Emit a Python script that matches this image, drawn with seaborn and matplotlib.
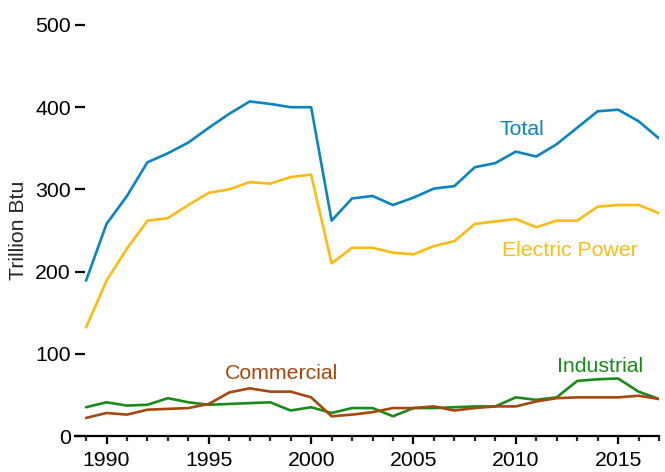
import matplotlib
matplotlib.use("Agg")
import matplotlib.pyplot as plt
from matplotlib.ticker import MultipleLocator
import numpy as np
import pandas as pd
import seaborn as sns

years = list(range(1989, 2018))

total = [189, 258, 292, 333, 344, 357, 375, 392, 407, 404, 400, 400, 262, 289, 292,
         281, 290, 301, 304, 327, 332, 346, 340, 355, 375, 395, 397, 383, 362]
electric_power = [132, 189, 228, 262, 265, 281, 296, 300, 309, 307, 315, 318, 210, 229, 229,
                  223, 221, 231, 237, 258, 261, 264, 254, 262, 262, 279, 281, 281, 271]
industrial = [35, 41, 37, 38, 46, 41, 38, 39, 40, 41, 31, 35, 28, 34, 34,
              24, 34, 34, 35, 36, 36, 47, 44, 47, 67, 69, 70, 54, 45]
commercial = [22, 28, 26, 32, 33, 34, 39, 53, 58, 54, 54, 47, 24, 26, 29,
              34, 34, 36, 31, 34, 36, 36, 42, 46, 47, 47, 47, 49, 45]

series_names = ["Total", "Electric Power", "Industrial", "Commercial"]
series_colors = ["#0B84C1", "#FDBB16", "#1A8A1A", "#A6470F"]

# label text, anchor year, anchor value (baseline)
labels = ["Total", "Electric Power", "Commercial", "Industrial"]
label_years = [2010.3, 2012.65, 1998.55, 2014.1]
label_values = [366, 219, 69, 78]
label_colors = ["#0B84C1", "#FDBB16", "#A6470F", "#1A8A1A"]

df = pd.DataFrame({
    "year": years * 4,
    "value": total + electric_power + industrial + commercial,
    "series": sum([[n] * len(years) for n in series_names], []),
})

sns.set_style("white")
plt.rcParams["font.family"] = ["Liberation Sans", "DejaVu Sans"]
FS = 15.3

fig = plt.figure(figsize=(6.65, 4.72), dpi=100)
ax = fig.add_axes([75 / 665, 36 / 472, 584 / 665, 411 / 472])

sns.lineplot(data=df, x="year", y="value", hue="series", hue_order=series_names,
             palette=dict(zip(series_names, series_colors)), linewidth=1.9,
             legend=False, ax=ax)

for txt, yr, val, col in zip(labels, label_years, label_values, label_colors):
    ax.text(yr, val, txt, color=col, fontsize=FS, ha="center", va="baseline")

ax.set_xlim(1988.46, 2017)
ax.set_ylim(0, 500)
ax.set_xlabel("")
ax.set_ylabel("Trillion Btu", fontsize=FS, labelpad=5)

ax.xaxis.set_major_locator(MultipleLocator(5))
ax.xaxis.set_minor_locator(MultipleLocator(1))
ax.set_xticks(range(1990, 2018, 5))
ax.yaxis.set_major_locator(MultipleLocator(100))

for side in ["top", "right", "left"]:
    ax.spines[side].set_visible(False)
ax.spines["bottom"].set_linewidth(1.6)
ax.spines["bottom"].set_color("black")

ax.tick_params(axis="x", which="major", direction="out", length=6, width=1.6,
               labelsize=FS, pad=5, colors="black", bottom=True)
ax.tick_params(axis="x", which="minor", direction="out", length=3.5, width=1.6,
               bottom=True)
ax.tick_params(axis="y", which="major", direction="in", length=7.2, width=1.6,
               labelsize=FS, pad=3, colors="black", left=True)

fig.savefig("out.png", dpi=100)
